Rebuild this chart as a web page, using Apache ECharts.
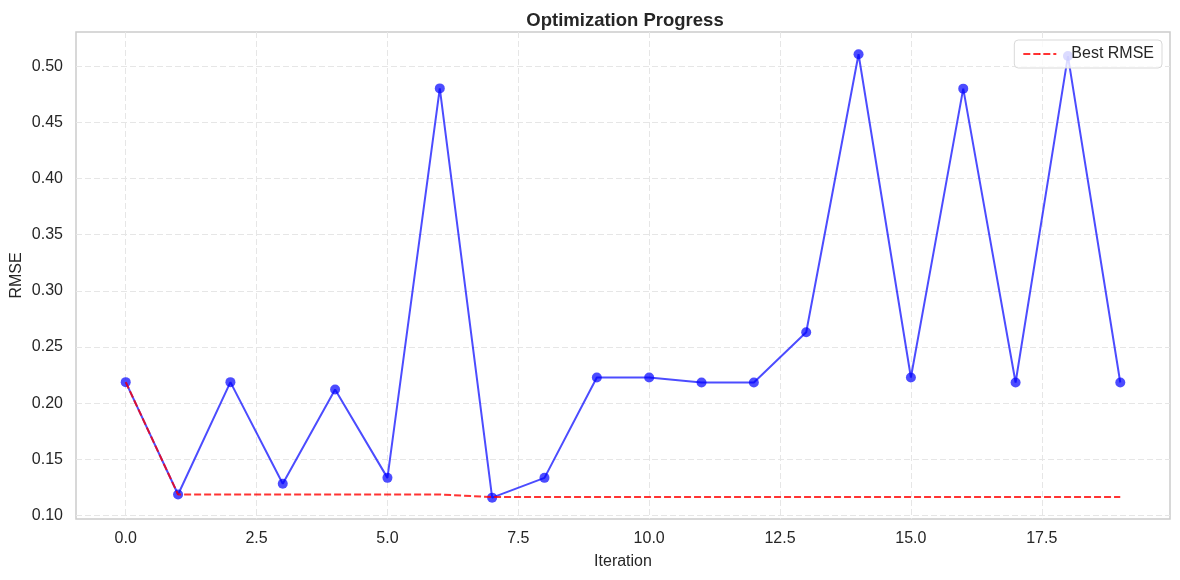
<!DOCTYPE html>
<html>
<head>
<meta charset="utf-8">
<script src="https://cdn.jsdelivr.net/npm/echarts@6/dist/echarts.min.js"></script>
<style>html,body{margin:0;padding:0;background:#fff;}#c{width:1180px;height:580px;}</style>
</head>
<body>
<div id="c"></div>
<script>
const iterations = [0,1,2,3,4,5,6,7,8,9,10,11,12,13,14,15,16,17,18,19];
const rmse = [0.2188,0.1188,0.2188,0.1283,0.2122,0.1336,0.4802,0.1160,0.1336,0.2229,0.2229,0.2185,0.2185,0.2632,0.5106,0.2229,0.4800,0.2185,0.5090,0.2185];
const bestRmse = [0.2188,0.1188,0.1188,0.1188,0.1188,0.1188,0.1188,0.1165,0.1165,0.1165,0.1165,0.1165,0.1165,0.1165,0.1165,0.1165,0.1165,0.1165,0.1165,0.1165];
const xTicks = [0,2.5,5,7.5,10,12.5,15,17.5];
const yTicks = [0.10,0.15,0.20,0.25,0.30,0.35,0.40,0.45,0.50];

const font = "'Liberation Sans', Arial, sans-serif";
const txt = '#262626';
const chart = echarts.init(document.getElementById('c'), null, {renderer:'canvas'});
const gridLine = {show:true, lineStyle:{color:'#e6e6e6', type:[6,3], width:1}};
chart.setOption({
  animation:false,
  backgroundColor:'#fff',
  title:{text:'Optimization Progress', left:620, top:6, textAlign:'center',
    textStyle:{fontFamily:font, fontSize:18.5, fontWeight:'bold', color:txt}},
  legend:{right:18, top:40, data:[{name:'Best RMSE'}], itemWidth:33, itemHeight:2, itemGap:10,
    padding:[6,8,6,8], borderColor:'#d9d9d9', borderWidth:1, borderRadius:4,
    backgroundColor:'rgba(255,255,255,0.8)',
    textStyle:{fontFamily:font, fontSize:16, color:txt, padding:[0,0,0,10]}},
  grid:{left:76, right:10, top:32, bottom:61, containLabel:false, outerBoundsMode:'none',
    show:true, borderColor:'#cccccc', borderWidth:1.5},
  xAxis:{type:'value', min:-0.95, max:19.95,
    name:'Iteration', nameLocation:'middle', nameGap:35, nameMoveOverlap:false,
    nameTextStyle:{fontFamily:font, fontSize:16, color:txt},
    axisLine:{show:false}, axisTick:{show:false, customValues:xTicks},
    axisLabel:{customValues:xTicks, fontFamily:font, fontSize:16, color:txt, margin:12,
      formatter:v=>v.toFixed(1)},
    splitLine:gridLine},
  yAxis:{type:'value', min:0.097, max:0.5304,
    name:'RMSE', nameLocation:'middle', nameGap:51, nameRotate:90, nameMoveOverlap:false,
    nameTextStyle:{fontFamily:font, fontSize:16, color:txt},
    axisLine:{show:false}, axisTick:{show:false, customValues:yTicks},
    axisLabel:{customValues:yTicks, fontFamily:font, fontSize:16, color:txt, margin:13,
      formatter:v=>v.toFixed(2)},
    splitLine:gridLine},
  series:[
    {type:'line', name:'RMSE', data:iterations.map((x,i)=>[x,rmse[i]]),
      symbol:'circle', symbolSize:10, showSymbol:true,
      lineStyle:{color:'rgba(0,0,255,0.7)', width:2},
      itemStyle:{color:'rgba(0,0,255,0.7)', borderWidth:0}, z:2},
    {type:'line', name:'Best RMSE', data:iterations.map((x,i)=>[x,bestRmse[i]]),
      symbol:'none', showSymbol:false,
      lineStyle:{color:'rgba(255,0,0,0.8)', width:2, type:[7,3]},
      itemStyle:{color:'rgba(255,0,0,0.8)'}, z:3}
  ]
});
</script>
</body>
</html>
